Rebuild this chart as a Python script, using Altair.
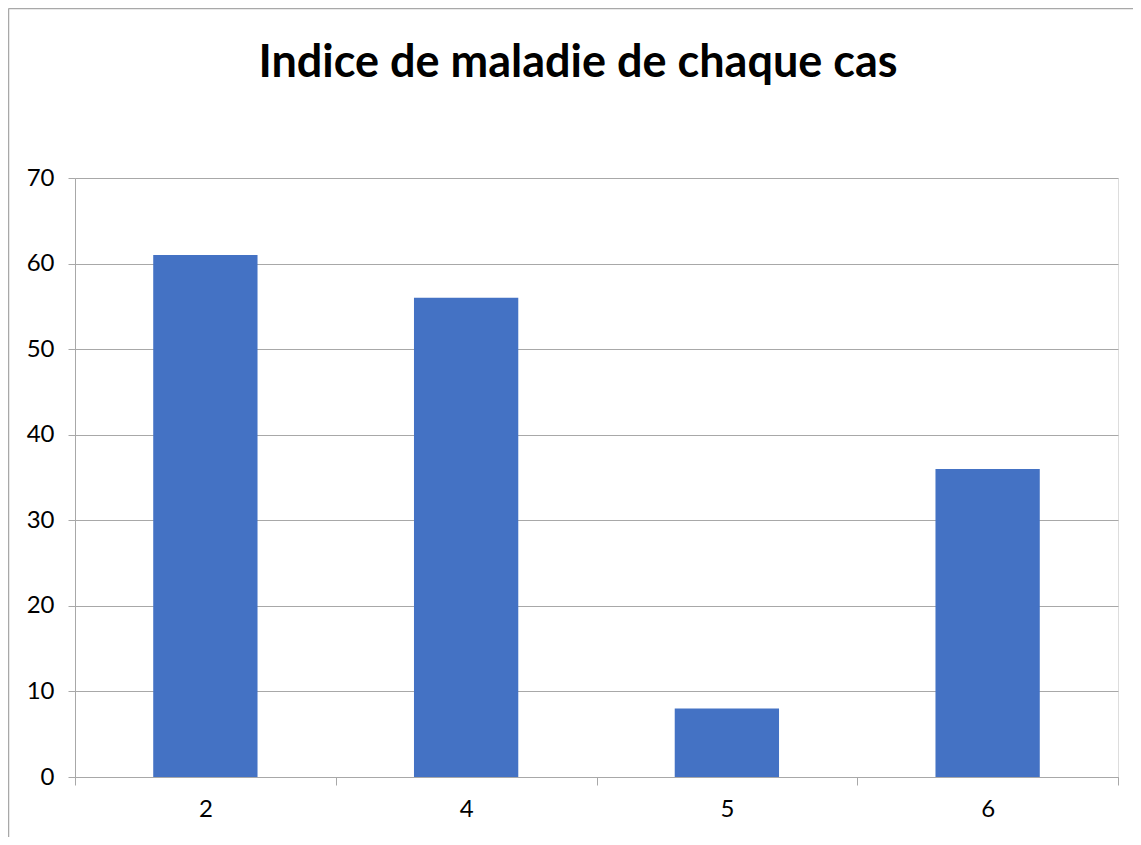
import altair as alt
import pandas as pd

cas = ["2", "4", "5", "6"]
indice = [61, 56, 8, 36]
titre = "Indice de maladie de chaque cas"
y_ticks = [0, 10, 20, 30, 40, 50, 60, 70]

df = pd.DataFrame({"cas": cas, "indice": indice})

W, H = 1043, 599
GRAY = "#a8a8a8"
FONT = "Lato"

bars = alt.Chart(df).mark_bar(
    color="#4472C4", width=alt.RelativeBandSize(0.4)
).encode(
    x=alt.X("cas:N", sort=None,
            scale=alt.Scale(paddingInner=0, paddingOuter=0),
            axis=alt.Axis(title=None, labelAngle=0, tickBand="extent",
                          domainColor=GRAY, tickColor=GRAY, tickSize=8,
                          labelFontSize=24, labelFont=FONT, labelColor="#000000",
                          labelPadding=12, grid=False)),
    y=alt.Y("indice:Q",
            scale=alt.Scale(domain=[0, 70], nice=False),
            axis=alt.Axis(title=None, values=y_ticks, domainColor=GRAY,
                          tickColor=GRAY, tickSize=7, gridColor=GRAY,
                          labelFontSize=24, labelFont=FONT, labelColor="#000000",
                          labelPadding=14)),
)

title_layer = alt.Chart(pd.DataFrame({"t": [titre]})).mark_text(
    font=FONT, fontSize=45, fontWeight="bold", color="#000000",
    align="center", baseline="alphabetic"
).encode(text="t:N", x=alt.value(503), y=alt.value(-101))

border_left = alt.Chart(pd.DataFrame({"a": [0]})).mark_rule(
    color=GRAY, strokeWidth=1.5
).encode(x=alt.value(-66.5), y=alt.value(-169.5), y2=alt.value(H + 80))

border_top = alt.Chart(pd.DataFrame({"a": [0]})).mark_rule(
    color=GRAY, strokeWidth=1.5
).encode(y=alt.value(-169.5), x=alt.value(-66.5), x2=alt.value(W + 40))

chart = alt.layer(bars, title_layer, border_left, border_top).properties(
    width=W, height=H,
    autosize=alt.AutoSizeParams(type="none"),
    padding={"left": 67, "top": 170, "right": 15, "bottom": 60},
).configure_view(stroke=None).configure(background="#ffffff")

chart.save("out.html", embed_options={"renderer": "svg", "actions": False})
